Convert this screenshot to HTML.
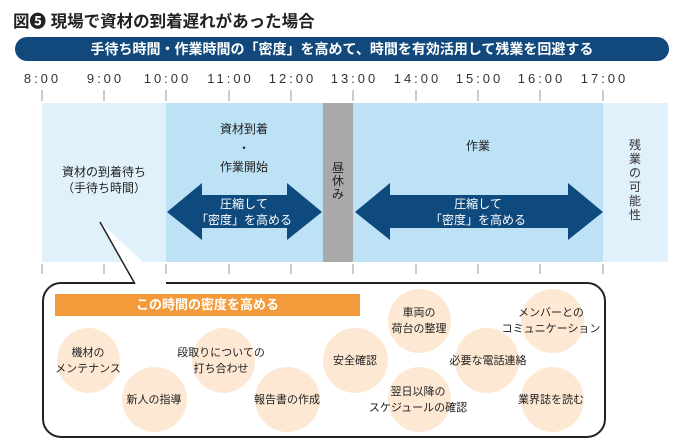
<!DOCTYPE html>
<html><head><meta charset="utf-8"><style>
*{margin:0;padding:0;box-sizing:border-box}
body{width:680px;height:448px;background:#fff;position:relative;overflow:hidden;font-family:"Liberation Sans","Noto Sans CJK JP",sans-serif;color:#222}
.a{position:absolute}
.t{position:absolute;text-align:center;white-space:nowrap;transform:translateX(-50%);line-height:16px}
.time{position:absolute;top:71px;font-size:13px;color:#333;transform:translateX(-50%);letter-spacing:3px;padding-left:3px}
.ell{position:absolute;border-radius:50%;background:#fde8d3}
.ct{position:absolute;font-size:11px;text-align:center;white-space:nowrap;transform:translate(-50%,-50%);line-height:16px;color:#222}
</style></head><body>
<div class="a" style="left:13px;top:8px;font-size:16.5px;font-weight:bold;color:#222">図❺ 現場で資材の到着遅れがあった場合</div>
<div class="a" style="left:15px;top:37px;width:654px;height:24px;border-radius:12px;background:#11497c;color:#fff;font-size:14px;font-weight:bold;text-align:center;line-height:24px">手待ち時間・作業時間の「密度」を高めて、時間を有効活用して残業を回避する</div>
<div class="time" style="left:41px">8:00</div>
<div class="time" style="left:104px">9:00</div>
<div class="time" style="left:166px">10:00</div>
<div class="time" style="left:229px">11:00</div>
<div class="time" style="left:291px">12:00</div>
<div class="time" style="left:353px">13:00</div>
<div class="time" style="left:416px">14:00</div>
<div class="time" style="left:478px">15:00</div>
<div class="time" style="left:540px">16:00</div>
<div class="time" style="left:603px">17:00</div>
<svg class="a" style="left:0;top:0" width="680" height="448">
<g stroke="#999" stroke-width="1">
<line x1="42" y1="90" x2="42" y2="101"/><line x1="104" y1="90" x2="104" y2="101"/><line x1="166" y1="90" x2="166" y2="101"/><line x1="229" y1="90" x2="229" y2="101"/><line x1="291" y1="90" x2="291" y2="101"/><line x1="353" y1="90" x2="353" y2="101"/><line x1="416" y1="90" x2="416" y2="101"/><line x1="478" y1="90" x2="478" y2="101"/><line x1="540" y1="90" x2="540" y2="101"/><line x1="603" y1="90" x2="603" y2="101"/>
<line x1="42" y1="264" x2="42" y2="274"/><line x1="104" y1="264" x2="104" y2="274"/><line x1="166" y1="264" x2="166" y2="274"/><line x1="229" y1="264" x2="229" y2="274"/><line x1="291" y1="264" x2="291" y2="274"/><line x1="353" y1="264" x2="353" y2="274"/><line x1="416" y1="264" x2="416" y2="274"/><line x1="478" y1="264" x2="478" y2="274"/><line x1="540" y1="264" x2="540" y2="274"/><line x1="603" y1="264" x2="603" y2="274"/>
</g>
<rect x="42" y="103" width="124" height="159" fill="#e1f1fb"/>
<rect x="166" y="103" width="157" height="159" fill="#bde2f6"/>
<rect x="323" y="103" width="30" height="159" fill="#a9a9a9"/>
<rect x="353" y="103" width="250" height="159" fill="#bde2f6"/>
<rect x="603" y="103" width="65" height="159" fill="#e1f1fb"/>
<polygon points="167,212 202,183 202,195 287,195 287,183 322,212 287,240 287,228 202,228 202,240" fill="#0e4a7e"/>
<polygon points="355,212 390,183 390,195 568,195 568,183 603,212 568,240 568,228 390,228 390,240" fill="#0e4a7e"/>
<polygon points="100,222 143,262 170,284 134,284" fill="#fff"/>
<rect x="43" y="283" width="562" height="154" rx="18" fill="#fff" stroke="#222" stroke-width="2"/>
<rect x="134" y="278" width="32" height="8" fill="#fff"/>
<line x1="100" y1="222" x2="135" y2="284" stroke="#222" stroke-width="1.5"/>
</svg>
<div class="t" style="left:104px;top:164px;font-size:12px">資材の到着待ち<br>（手待ち時間）</div>
<div class="t" style="left:244px;top:120px;font-size:12px;line-height:19px">資材到着<br>・<br>作業開始</div>
<div class="t" style="left:244px;top:196px;font-size:12px;color:#fff">圧縮して<br>「密度」を高める</div>
<div class="t" style="left:478px;top:196px;font-size:12px;color:#fff">圧縮して<br>「密度」を高める</div>
<div class="t" style="left:478px;top:138px;font-size:12px">作業</div>
<div class="a" style="left:331px;top:162px;width:14px;font-size:12px;line-height:13px;text-align:center">昼<br>休<br>み</div>
<div class="a" style="left:628px;top:138px;width:14px;font-size:12px;line-height:14px;text-align:center;color:#333">残<br>業<br>の<br>可<br>能<br>性</div>
<div class="a" style="left:55px;top:294px;width:305px;height:22px;background:#f39a3a;color:#fff;font-weight:bold;font-size:13px;text-align:center;line-height:22px">この時間の密度を高める</div>
<div class="ell" style="left:57px;top:328px;width:63px;height:65px"></div>
<div class="ell" style="left:122px;top:367px;width:65px;height:65px"></div>
<div class="ell" style="left:192px;top:328px;width:63px;height:65px"></div>
<div class="ell" style="left:255px;top:367px;width:65px;height:65px"></div>
<div class="ell" style="left:323px;top:328px;width:65px;height:65px"></div>
<div class="ell" style="left:388px;top:289px;width:63px;height:64px"></div>
<div class="ell" style="left:388px;top:367px;width:63px;height:65px"></div>
<div class="ell" style="left:455px;top:328px;width:64px;height:65px"></div>
<div class="ell" style="left:521px;top:289px;width:63px;height:64px"></div>
<div class="ell" style="left:521px;top:367px;width:63px;height:65px"></div>
<div class="ct" style="left:88px;top:361px">機材の<br>メンテナンス</div>
<div class="ct" style="left:154px;top:400px">新人の指導</div>
<div class="ct" style="left:221px;top:361px">段取りについての<br>打ち合わせ</div>
<div class="ct" style="left:287px;top:400px">報告書の作成</div>
<div class="ct" style="left:355px;top:361px">安全確認</div>
<div class="ct" style="left:419px;top:321px">車両の<br>荷台の整理</div>
<div class="ct" style="left:418px;top:400px">翌日以降の<br>スケジュールの確認</div>
<div class="ct" style="left:488px;top:361px">必要な電話連絡</div>
<div class="ct" style="left:551px;top:321px">メンバーとの<br>コミュニケーション</div>
<div class="ct" style="left:551px;top:400px">業界誌を読む</div>
</body></html>
